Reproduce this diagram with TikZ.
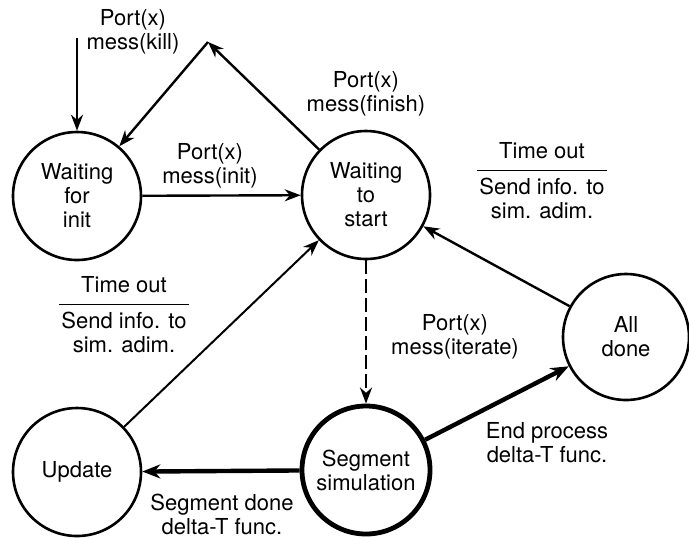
\documentclass[tikz,border=0pt]{standalone}
\usepackage{fontspec}
\setmainfont{TeX Gyre Heros}
\usetikzlibrary{arrows.meta}

\tikzset{
  state/.style={circle, draw, line width=1.3pt, minimum size=64pt, inner sep=0pt,
    align=center, font=\fontsize{11}{12}\selectfont},
  busy/.style={state, line width=2.4pt},
  lbl/.style={align=center, inner sep=0pt, font=\fontsize{11}{12}\selectfont},
  tr/.style={line width=1.2pt, -{Stealth[length=8pt, width=6pt]}},
  thintr/.style={line width=1pt, -{Stealth[length=8pt, width=6pt]}},
  heavytr/.style={line width=2.2pt, -{Stealth[length=9pt, width=7pt]}}
}

\newcommand{\timeout}{%
  \begin{tabular}{@{\hspace{1pt}}c@{\hspace{1pt}}}Time out\\[2pt]\hline\rule{0pt}{12pt}Send info. to\\sim. adim.\end{tabular}}

\begin{document}
\begin{tikzpicture}[x=0.5pt, y=-0.5pt]
  \useasboundingbox (0,0) rectangle (689,537);

  % states
  \node[state] (wfi) at (77,196) {Waiting\\for\\init};
  \node[state] (wts) at (366,195) {Waiting\\to\\start};
  \node[state, minimum size=63pt] (alld) at (626,337) {All\\done};
  \node[busy] (seg) at (366,470) {Segment\\simulation};
  \node[state] (upd) at (77,472) {Update};

  \coordinate (killin) at (77,38);
  \coordinate (peak) at (208,42);

  % transitions
  \draw[tr] (killin) -- (wfi);
  \draw[tr] (wfi) -- (wts);
  \draw[tr] (wts) -- (peak);
  \draw[tr] (peak) -- (wfi);
  \draw[tr] (alld) -- (wts);
  \draw[thintr] (upd) -- (wts);
  \draw[tr, line width=1.4pt, dash pattern=on 7pt off 2.5pt] (wts) -- (seg);
  \draw[heavytr] (seg) -- (alld);
  \draw[heavytr] (seg) -- (upd);

  % labels
  \node[lbl] (lkill) at (133,32) {Port(x)\\mess(kill)};
  \node[lbl] (linit) at (210,166) {Port(x)\\mess(init)};
  \node[lbl] (lfinish) at (366,94) {Port(x)\\mess(finish)};
  \node[lbl] (lto1) at (542,184) {\timeout};
  \node[lbl] (lto2) at (124,318) {\timeout};
  \node[lbl] (liter) at (455,337) {Port(x)\\mess(iterate)};
  \node[lbl] (lend) at (547,443) {End process\\delta-T func.};
  \node[lbl] (ldone) at (222,514) {Segment done\\delta-T func.};
\end{tikzpicture}
\end{document}
